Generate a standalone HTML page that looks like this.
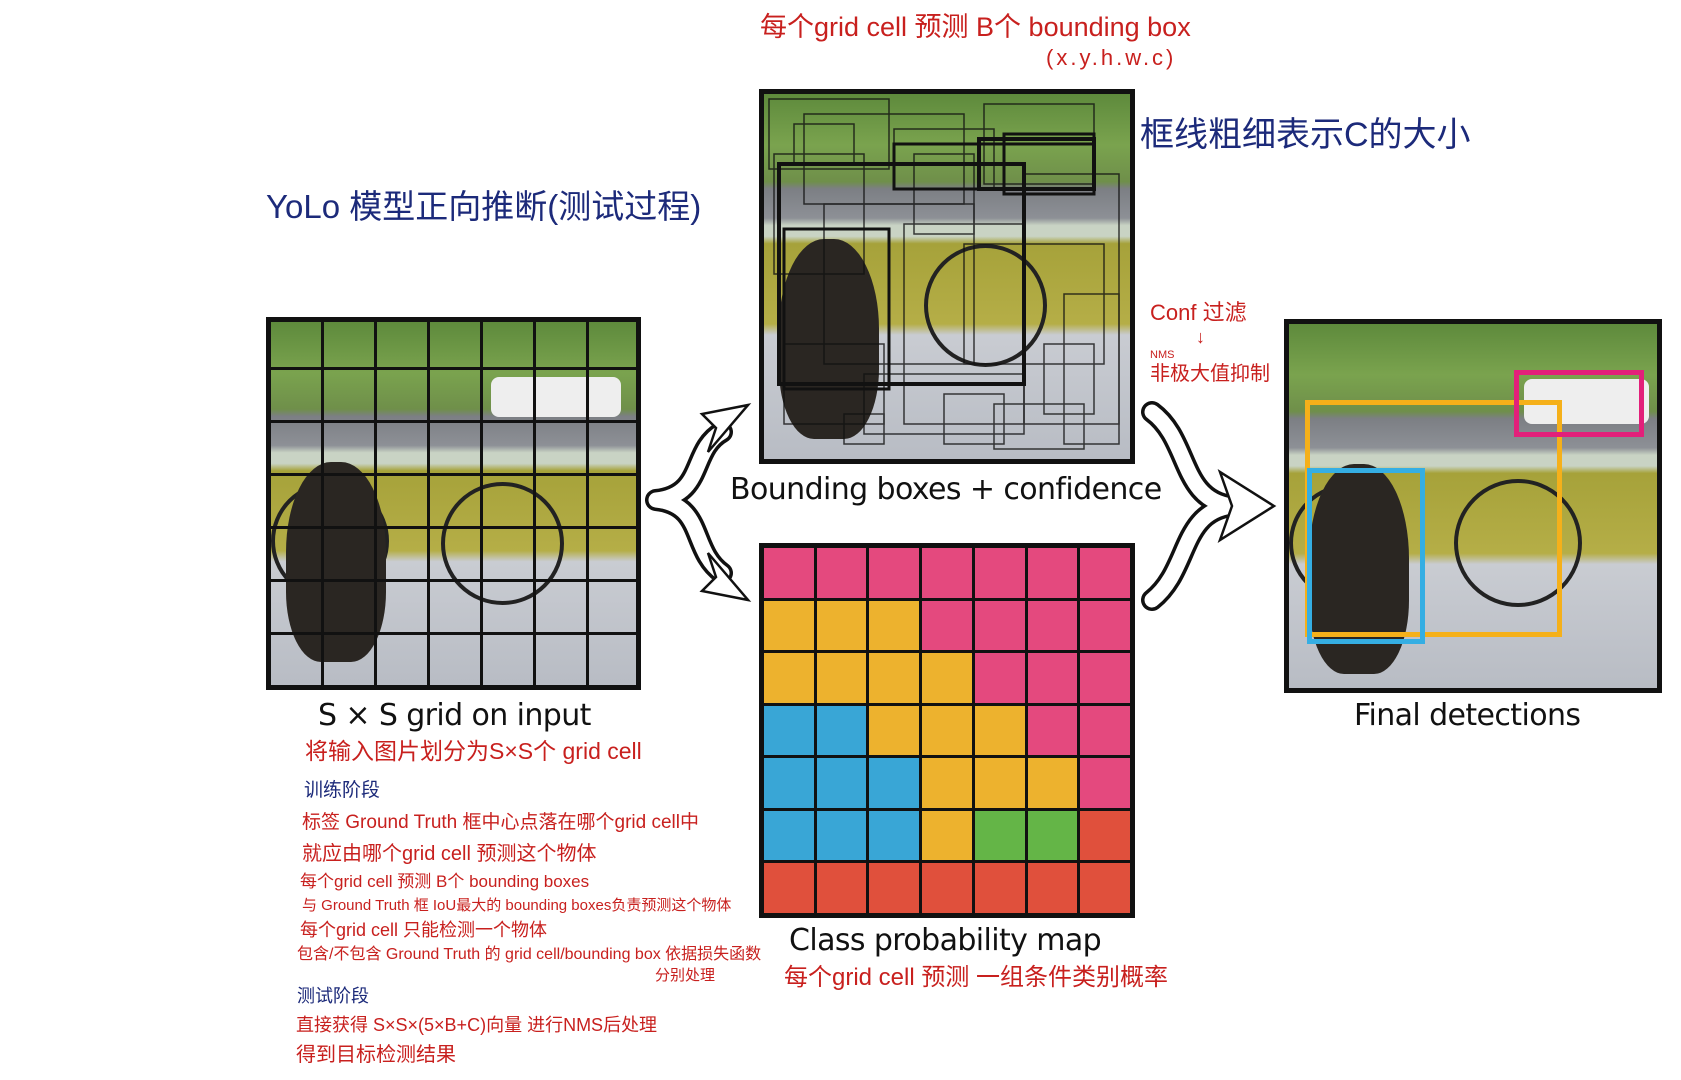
<!DOCTYPE html>
<html><head><meta charset="utf-8">
<style>
body{margin:0;width:1681px;height:1080px;background:#fff;position:relative;overflow:hidden;font-family:"Liberation Sans","Noto Sans CJK SC",sans-serif}
.t{position:absolute;white-space:nowrap;line-height:1}
.r{color:#c8201e}
.b{color:#1c2a7a}
.k{color:#111;font-family:"DejaVu Sans","Liberation Sans",sans-serif}
.img{position:absolute;border:5px solid #111;box-sizing:border-box;overflow:hidden;
background:linear-gradient(#5e8a3c 0%,#7aa34e 14%,#6f8f4a 24%,#7c7f84 26%,#8d9096 34%,#c9d3c4 36%,#c9d3c4 39%,#a6a23a 41%,#b5ae47 63%,#c9ccd2 66%,#b8bcc4 100%)}
.dog{position:absolute;background:#2a2622;border-radius:45% 45% 35% 35%}
.wheel{position:absolute;border:4px solid #222;border-radius:50%}
.grid{position:absolute;inset:0;background:
repeating-linear-gradient(90deg,transparent 0,transparent 50px,#111 50px,#111 53px),
repeating-linear-gradient(0deg,transparent 0,transparent 50px,#111 50px,#111 53px)}
.cmap{position:absolute;left:759px;top:543px;width:376px;height:375px;background:#111;border:5px solid #111;box-sizing:border-box;display:grid;grid-template-columns:repeat(7,1fr);grid-template-rows:repeat(7,1fr);gap:3px}
.P{background:#e4497e}.Y{background:#edb22e}.B{background:#39a6d6}.G{background:#64b547}.R{background:#e0503c}
</style></head><body>

<div class="t r" style="left:760px;top:14px;font-size:27px">每个grid cell 预测 B个 bounding box</div>
<div class="t r" style="left:1046px;top:47px;font-size:22px;letter-spacing:3px">(x.y.h.w.c)</div>
<div class="t b" style="left:1140px;top:118px;font-size:34px">框线粗细表示C的大小</div>
<div class="t b" style="left:266px;top:190px;font-size:33px">YoLo 模型正向推断(测试过程)</div>
<div class="t r" style="left:1150px;top:302px;font-size:22px">Conf 过滤</div>
<div class="t r" style="left:1196px;top:328px;font-size:18px">↓</div>
<div class="t r" style="left:1150px;top:350px;font-size:11px">NMS</div>
<div class="t r" style="left:1150px;top:364px;font-size:20px">非极大值抑制</div>

<div class="img" style="left:266px;top:317px;width:375px;height:373px">
 <div class="wheel" style="left:0;top:160px;width:110px;height:110px"></div>
 <div class="wheel" style="left:170px;top:160px;width:115px;height:115px"></div>
 <div class="dog" style="left:15px;top:140px;width:100px;height:200px"></div>
 <div style="position:absolute;left:220px;top:55px;width:130px;height:40px;background:#eee;border-radius:8px"></div>
 <div class="grid"></div>
</div>

<div class="img" style="left:759px;top:89px;width:376px;height:375px">
 <div class="wheel" style="left:160px;top:150px;width:115px;height:115px"></div>
 <div class="dog" style="left:15px;top:145px;width:100px;height:200px"></div>
 <svg style="position:absolute;left:0;top:0" width="366" height="365" fill="none" stroke="#111">
  <g stroke-width="1.5" opacity=".8">
   <rect x="5" y="5" width="120" height="70"/><rect x="40" y="20" width="160" height="90"/><rect x="130" y="35" width="100" height="60"/>
   <rect x="220" y="10" width="110" height="80"/><rect x="10" y="60" width="90" height="120"/><rect x="60" y="110" width="150" height="160"/>
   <rect x="140" y="130" width="120" height="200"/><rect x="200" y="150" width="140" height="120"/><rect x="260" y="80" width="95" height="250"/>
   <rect x="20" y="250" width="100" height="80"/><rect x="100" y="280" width="160" height="60"/><rect x="180" y="300" width="60" height="50"/>
   <rect x="80" y="320" width="40" height="30"/><rect x="230" y="310" width="90" height="45"/><rect x="300" y="200" width="55" height="150"/>
   <rect x="30" y="30" width="60" height="40"/><rect x="150" y="60" width="60" height="80"/><rect x="280" y="250" width="50" height="70"/>
  </g>
  <g stroke-width="4"><rect x="15" y="70" width="245" height="220"/><rect x="215" y="45" width="115" height="50"/></g>
  <g stroke-width="3"><rect x="20" y="135" width="105" height="160"/><rect x="130" y="50" width="200" height="45"/><rect x="240" y="40" width="90" height="60"/></g>
 </svg>
</div>
<div class="t k" style="left:730px;top:475px;font-size:30px;letter-spacing:-0.6px">Bounding boxes + confidence</div>

<div class="cmap">
 <div class="P"></div><div class="P"></div><div class="P"></div><div class="P"></div><div class="P"></div><div class="P"></div><div class="P"></div>
 <div class="Y"></div><div class="Y"></div><div class="Y"></div><div class="P"></div><div class="P"></div><div class="P"></div><div class="P"></div>
 <div class="Y"></div><div class="Y"></div><div class="Y"></div><div class="Y"></div><div class="P"></div><div class="P"></div><div class="P"></div>
 <div class="B"></div><div class="B"></div><div class="Y"></div><div class="Y"></div><div class="Y"></div><div class="P"></div><div class="P"></div>
 <div class="B"></div><div class="B"></div><div class="B"></div><div class="Y"></div><div class="Y"></div><div class="Y"></div><div class="P"></div>
 <div class="B"></div><div class="B"></div><div class="B"></div><div class="Y"></div><div class="G"></div><div class="G"></div><div class="R"></div>
 <div class="R"></div><div class="R"></div><div class="R"></div><div class="R"></div><div class="R"></div><div class="R"></div><div class="R"></div>
</div>
<div class="t k" style="left:789px;top:926px;font-size:30px;letter-spacing:-0.6px">Class probability map</div>
<div class="t r" style="left:784px;top:966px;font-size:24px">每个grid cell 预测 一组条件类别概率</div>

<div class="img" style="left:1284px;top:319px;width:378px;height:374px">
 <div class="wheel" style="left:0;top:160px;width:110px;height:110px"></div>
 <div class="wheel" style="left:165px;top:155px;width:120px;height:120px"></div>
 <div class="dog" style="left:20px;top:140px;width:100px;height:210px"></div>
 <div style="position:absolute;left:235px;top:55px;width:125px;height:45px;background:#eee;border-radius:8px"></div>
 <div style="position:absolute;left:16px;top:76px;width:257px;height:237px;border:5px solid #f5b01a;box-sizing:border-box"></div>
 <div style="position:absolute;left:18px;top:144px;width:118px;height:176px;border:5px solid #35aee3;box-sizing:border-box"></div>
 <div style="position:absolute;left:225px;top:46px;width:130px;height:67px;border:5px solid #e2207a;box-sizing:border-box"></div>
</div>
<div class="t k" style="left:1354px;top:701px;font-size:30px;letter-spacing:-0.6px">Final detections</div>
<div class="t k" style="left:318px;top:701px;font-size:30px;letter-spacing:-0.6px">S × S grid on input</div>

<svg style="position:absolute;left:0;top:0" width="1681" height="1080" fill="none">
 <g stroke-linecap="round" stroke-linejoin="round">
  <path d="M722 432 C690 450 705 495 656 500 C705 505 690 550 722 573" stroke="#111" stroke-width="22"/>
  <path d="M722 432 C690 450 705 495 656 500 C705 505 690 550 722 573" stroke="#fff" stroke-width="15"/>
  <path d="M1152 412 C1190 440 1180 500 1232 506 M1152 600 C1190 570 1180 512 1232 506" stroke="#111" stroke-width="22"/>
  <path d="M1152 412 C1190 440 1180 500 1232 506 M1152 600 C1190 570 1180 512 1232 506" stroke="#fff" stroke-width="15"/>
 </g>
 <g fill="#fff" stroke="#111" stroke-width="2.5" stroke-linejoin="miter">
  <polygon points="748,405 702,414 716,428 708,452"/>
  <polygon points="748,600 702,591 716,577 708,553"/>
  <polygon points="1274,506 1220,472 1232,506 1220,540"/>
 </g>
</svg>

<div class="t r" style="left:305px;top:740px;font-size:23px">将输入图片划分为S×S个 grid cell</div>
<div class="t b" style="left:304px;top:781px;font-size:19px">训练阶段</div>
<div class="t r" style="left:302px;top:813px;font-size:19px">标签 Ground Truth 框中心点落在哪个grid cell中</div>
<div class="t r" style="left:302px;top:844px;font-size:20px">就应由哪个grid cell 预测这个物体</div>
<div class="t r" style="left:300px;top:873px;font-size:17px">每个grid cell 预测 B个 bounding  boxes</div>
<div class="t r" style="left:302px;top:898px;font-size:15px">与 Ground Truth 框 IoU最大的 bounding boxes负责预测这个物体</div>
<div class="t r" style="left:300px;top:921px;font-size:18px">每个grid cell 只能检测一个物体</div>
<div class="t r" style="left:297px;top:947px;font-size:16px">包含/不包含 Ground Truth 的 grid cell/bounding box 依据损失函数</div>
<div class="t r" style="left:655px;top:968px;font-size:15px">分别处理</div>
<div class="t b" style="left:297px;top:987px;font-size:18px">测试阶段</div>
<div class="t r" style="left:296px;top:1016px;font-size:18px">直接获得 S×S×(5×B+C)向量 进行NMS后处理</div>
<div class="t r" style="left:296px;top:1045px;font-size:20px">得到目标检测结果</div>
</body></html>
